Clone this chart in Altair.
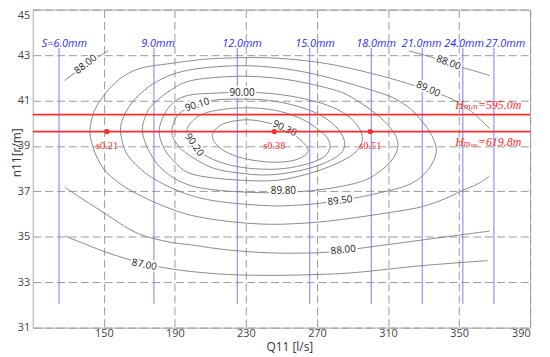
import altair as alt
import pandas as pd

# ---------------- data (Q11 [l/s], n11 [r/m]) ----------------
# closed efficiency contours
c9030_q = [211.1, 217.2, 230.0, 242.2, 253.3, 261.7, 265.0, 258.9, 247.8, 233.9, 222.8, 214.4]
c9030_n = [39.50, 39.97, 40.15, 40.02, 39.71, 39.19, 38.76, 38.41, 38.28, 38.37, 38.59, 38.98]

c9020_q = [196.7, 200.6, 208.9, 225.6, 242.2, 256.1, 267.2, 275.6, 277.2, 272.8, 261.7, 247.8, 231.1, 217.2, 206.1, 200.6]
c9020_n = [39.63, 40.15, 40.49, 40.67, 40.62, 40.36, 39.93, 39.37, 38.89, 38.46, 38.15, 37.98, 38.02, 38.24, 38.63, 39.11]

c9010_q = [188.3, 192.2, 202.2, 211.7, 225.6, 242.2, 258.9, 272.8, 282.2, 285.6, 282.8, 272.8, 258.9, 242.2, 225.6, 211.7, 200.6, 192.2]
c9010_n = [39.63, 40.41, 40.80, 41.01, 41.06, 41.01, 40.75, 40.32, 39.71, 39.11, 38.63, 38.20, 37.89, 37.72, 37.81, 38.02, 38.46, 38.98]

c9000_q = [181.1, 183.9, 189.4, 197.8, 211.7, 227.2, 242.2, 258.9, 275.6, 286.7, 293.3, 295.6, 292.2, 283.9, 270.0, 253.3, 240.6, 225.6, 211.7, 197.8, 189.4, 183.9]
c9000_n = [39.63, 40.36, 40.93, 41.23, 41.32, 41.36, 41.32, 41.14, 40.80, 40.36, 39.84, 39.28, 38.76, 38.33, 37.89, 37.55, 37.46, 37.50, 37.59, 37.81, 38.33, 38.89]

c8980_q = [171.7, 173.3, 177.2, 188.3, 199.4, 220.0, 236.7, 253.3, 270.0, 283.9, 292.2, 303.3, 311.7, 315.6, 311.7, 301.7, 292.2, 275.6, 258.9, 242.2, 225.6, 211.7, 199.4, 189.4, 181.1, 175.0]
c8980_n = [39.63, 40.28, 40.80, 41.49, 41.88, 42.05, 42.05, 41.92, 41.66, 41.36, 41.01, 40.41, 39.76, 39.06, 38.33, 37.68, 37.37, 37.11, 36.98, 36.94, 36.98, 37.07, 37.24, 37.59, 38.11, 38.85]

c8950_q = [159.4, 161.1, 166.1, 172.8, 178.9, 188.3, 199.4, 214.4, 231.1, 247.8, 264.4, 278.3, 292.2, 306.1, 314.4, 322.8, 329.4, 334.4, 337.2, 335.0, 329.4, 320.0, 303.3, 292.2, 270.0, 253.3, 242.2, 225.6, 211.7, 199.4, 186.7, 175.6, 167.8, 162.2]
c8950_n = [39.63, 40.28, 40.93, 41.45, 41.79, 42.14, 42.36, 42.49, 42.53, 42.44, 42.23, 41.97, 41.66, 41.32, 41.06, 40.62, 40.06, 39.50, 38.85, 38.24, 37.68, 37.24, 36.90, 36.72, 36.46, 36.37, 36.37, 36.46, 36.59, 36.81, 37.20, 37.68, 38.20, 38.76]

# open contours
c8900_q = [367.2, 357.2, 346.1, 332.8, 317.2, 303.3, 279.4, 258.9, 242.2, 225.6, 208.9, 199.4, 186.7, 171.7, 161.7, 154.4, 148.9, 144.4, 142.2, 143.3, 146.1, 150.0, 155.0, 161.7, 171.7, 184.4, 199.4, 220.0, 243.9, 270.0, 292.2, 314.4, 329.4, 342.2, 351.7, 360.6, 367.2]
c8900_n = [39.76, 40.49, 41.06, 41.45, 41.84, 42.14, 42.57, 42.79, 42.88, 42.88, 42.83, 42.75, 42.62, 42.44, 42.10, 41.62, 41.10, 40.49, 39.71, 39.11, 38.50, 37.98, 37.59, 37.20, 36.77, 36.33, 35.94, 35.68, 35.55, 35.64, 35.85, 36.11, 36.33, 36.68, 37.03, 37.33, 37.68]

c8800a_q = [127.8, 139.4, 152.2]
c8800a_n = [41.88, 42.53, 43.18]
c8800b_q = [321.7, 333.9, 343.9, 356.1, 367.2]
c8800b_n = [43.18, 42.92, 42.62, 42.36, 42.10]
c8800c_q = [128.3, 139.4, 150.6, 161.7, 171.7, 186.7, 199.4, 220.0, 243.9, 268.3, 285.0, 292.2, 329.4, 367.2]
c8800c_n = [37.16, 36.59, 36.03, 35.46, 35.07, 34.77, 34.64, 34.42, 34.29, 34.29, 34.38, 34.47, 34.86, 35.25]
c8700_q = [128.3, 139.4, 150.6, 164.4, 172.8, 183.9, 199.4, 220.0, 243.9, 270.0, 292.2, 329.4, 366.1]
c8700_n = [35.03, 34.68, 34.34, 33.99, 33.82, 33.64, 33.47, 33.34, 33.30, 33.34, 33.43, 33.73, 33.95]

# contour labels
clab_text = ["88.00", "88.00", "89.00", "90.00", "90.10", "90.20", "90.30", "89.80", "89.50", "88.00", "87.00"]
clab_q = [139.8, 344.1, 332.6, 227.8, 202.6, 200.9, 251.8, 251.1, 283.0, 284.8, 172.8]
clab_n = [42.59, 42.66, 41.50, 41.33, 40.81, 39.05, 39.77, 37.00, 36.59, 34.42, 33.77]
clab_angle = [322, 20, 24, 0, 342, 55, 25, 0, 352, 354, 11]

# guide vane opening lines
open_text = ["S=6.0mm", "9.0mm", "12.0mm", "15.0mm", "18.0mm", "21.0mm", "24.0mm", "27.0mm"]
open_q = [124.8, 178.2, 225.2, 265.9, 300.6, 329.3, 352.1, 369.6]
open_label_q = [127.8, 180.6, 227.8, 268.9, 303.3, 328.9, 352.8, 376.1]
open_lo = 32.04
open_hi = 43.31

# head lines and operating points
head_text = ["Hₘᵢₙ=595.0m", "Hₘₐₓ=619.8m"]
head_n = [40.38, 39.63]
head_label_q = [385.0, 385.0]
head_label_n = [40.80, 39.17]
pt_text = ["s0.21", "s0.38", "s0.51"]
pt_q = [151.8, 246.0, 300.0]
pt_n = [39.63, 39.63, 39.63]

# ---------------- frames ----------------
closed = {"90.30": (c9030_q, c9030_n), "90.20": (c9020_q, c9020_n), "90.10": (c9010_q, c9010_n),
          "90.00": (c9000_q, c9000_n), "89.80": (c8980_q, c8980_n), "89.50": (c8950_q, c8950_n)}
opened = {"89.00": (c8900_q, c8900_n), "88.00a": (c8800a_q, c8800a_n), "88.00b": (c8800b_q, c8800b_n),
          "88.00c": (c8800c_q, c8800c_n), "87.00": (c8700_q, c8700_n)}


def frame(segs):
    rows = []
    for name, (qs, ns) in segs.items():
        for i, (q, n) in enumerate(zip(qs, ns)):
            rows.append({"id": name, "i": i, "q": q, "n": n})
    return pd.DataFrame(rows)


df_closed = frame(closed)
df_open = frame(opened)
df_clab = pd.DataFrame({"t": clab_text, "q": clab_q, "n": clab_n, "a": clab_angle})
df_open_lines = pd.DataFrame({"q": open_q, "lo": [open_lo] * len(open_q), "hi": [open_hi] * len(open_q)})
df_open_lab = pd.DataFrame({"t": open_text, "q": open_label_q, "n": [open_hi] * len(open_q)})
df_head = pd.DataFrame({"n": head_n})
df_head_lab = pd.DataFrame({"t": head_text, "q": head_label_q, "n": head_label_n})
df_pts = pd.DataFrame({"t": pt_text, "q": pt_q, "n": pt_n})

# ---------------- scales / axes ----------------
xs = alt.Scale(domain=[110, 390], nice=False, zero=False)
ys = alt.Scale(domain=[31, 45], nice=False, zero=False)
x_axis = alt.Axis(values=[150, 190, 230, 270, 310, 350, 390], labelPadding=0,
                  titleX=259, titleY=19, titleBaseline="middle", titleAlign="center")
y_axis = alt.Axis(values=[31, 33, 35, 37, 39, 41, 43, 45], labelPadding=3,
                  labelBaseline={"condition": {"test": "datum.value >= 45", "value": "top"}, "value": "middle"},
                  titleX=-16, titleY=144, titleBaseline="middle", titleAlign="center", titleAngle=270)


def X(f):
    return alt.X(f, type="quantitative", scale=xs, axis=x_axis, title="Q11  [l/s]")


def Y(f):
    return alt.Y(f, type="quantitative", scale=ys, axis=y_axis, title="n11[r/m]")


LINE_GRAY = "#7d7d7d"
RED = "#ff2a2a"

vane_lines = alt.Chart(df_open_lines).mark_rule(color="#8080ff", strokeWidth=1.3, opacity=0.8).encode(
    x=X("q"), y=Y("lo"), y2="hi")

closed_lines = alt.Chart(df_closed).mark_line(interpolate="cardinal-closed", color=LINE_GRAY, strokeWidth=0.9).encode(
    x=X("q"), y=Y("n"), detail="id:N", order="i:Q")

open_lines = alt.Chart(df_open).mark_line(interpolate="cardinal", color=LINE_GRAY, strokeWidth=0.9).encode(
    x=X("q"), y=Y("n"), detail="id:N", order="i:Q")

halo = alt.Chart(df_clab).mark_text(font="Open Sans", fontSize=10, color="white", stroke="white",
                                    strokeWidth=4).encode(
    x=X("q"), y=Y("n"), text="t:N", angle=alt.Angle("a:Q", scale=None))

clabels = alt.Chart(df_clab).mark_text(font="Open Sans", fontSize=10, color="#222").encode(
    x=X("q"), y=Y("n"), text="t:N", angle=alt.Angle("a:Q", scale=None))

vane_labels = alt.Chart(df_open_lab).mark_text(font="Open Sans", fontStyle="italic", fontSize=11,
                                               color="#2b2bff", baseline="alphabetic", dy=-1).encode(
    x=X("q"), y=Y("n"), text="t:N")

head_lines = alt.Chart(df_head).mark_rule(color=RED, strokeWidth=1.8).encode(y=Y("n"))

head_labels = alt.Chart(df_head_lab).mark_text(font="Liberation Serif, DejaVu Serif", fontStyle="italic",
                                               fontSize=12, color=RED, align="right").encode(
    x=X("q"), y=Y("n"), text="t:N")

points = alt.Chart(df_pts).mark_point(filled=True, size=28, color=RED, opacity=1).encode(x=X("q"), y=Y("n"))

point_labels = alt.Chart(df_pts).mark_text(font="Liberation Serif", fontSize=10.5, color=RED, dy=15).encode(
    x=X("q"), y=Y("n"), text="t:N")

chart = alt.layer(
    vane_lines, closed_lines, open_lines, halo, clabels, vane_labels,
    head_lines, head_labels, points, point_labels
).properties(
    width=502, height=321,
    autosize=alt.AutoSizeParams(type="none"),
    padding={"left": 25, "top": 0, "right": 12, "bottom": 28},
).configure_view(
    stroke="#a8a8a8", strokeWidth=1
).configure_axis(
    grid=True, gridColor="#9a9a9a", gridDash=[8, 4], gridWidth=1,
    domain=False, ticks=False, tickSize=0,
    labelFont="Open Sans", labelFontSize=11, labelColor="#444",
    titleFont="Open Sans", titleFontSize=12, titleFontWeight="normal", titleColor="#333"
)

chart.save("out.html", embed_options={"renderer": "svg", "actions": False})
